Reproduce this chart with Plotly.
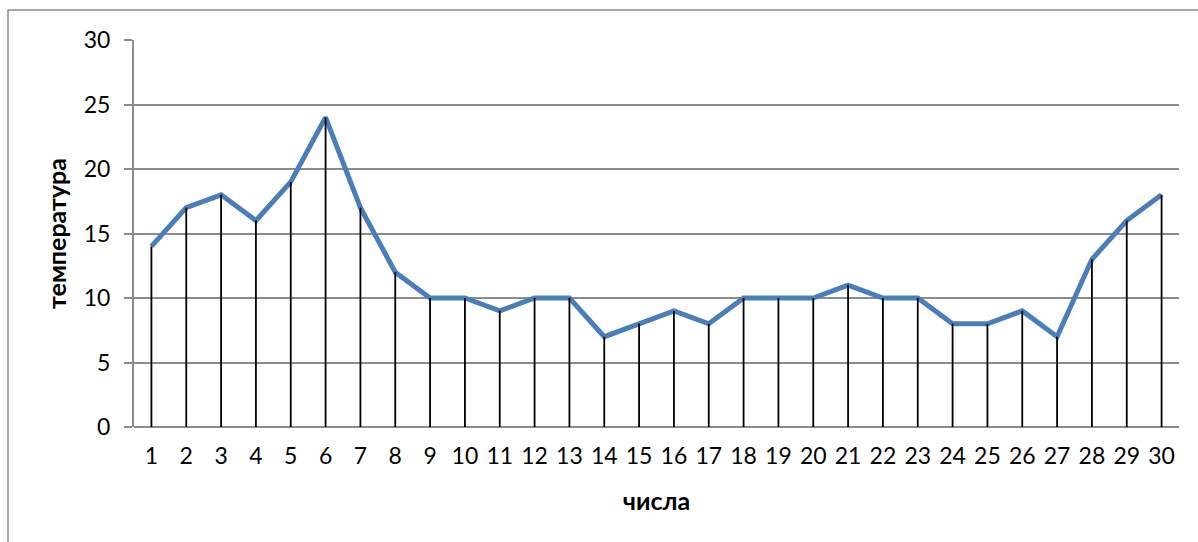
import plotly.graph_objects as go

# day of month and the temperature measured on it
days = list(range(1, 31))
temps = [14, 17, 18, 16, 19, 24, 17, 12, 10, 10, 9, 10, 10, 7, 8,
         9, 8, 10, 10, 10, 11, 10, 10, 8, 8, 9, 7, 13, 16, 18]
y_ticks = [0, 5, 10, 15, 20, 25, 30]

# vertical drop lines from each point down to zero
drop_x, drop_y = [], []
for d, t in zip(days, temps):
    drop_x += [d, d, None]
    drop_y += [0, t, None]

fig = go.Figure()
fig.add_trace(go.Scatter(
    x=days, y=temps, mode="lines",
    line=dict(color="#4A7EBB", width=5), hoverinfo="x+y"))
fig.add_trace(go.Scatter(
    x=drop_x, y=drop_y, mode="lines",
    line=dict(color="#000000", width=1.8), hoverinfo="skip"))

L, R, T, B = 134, 19, 40, 115
W, H = 1198, 542
pw, ph = W - L - R, H - T - B

fig.update_layout(
    width=W, height=H,
    margin=dict(l=L, r=R, t=T, b=B),
    paper_bgcolor="white", plot_bgcolor="white",
    showlegend=False,
    font=dict(family="Lato, Open Sans, sans-serif", size=23, color="#000000"),
    xaxis=dict(
        range=[0.5, 30.5], tickmode="array", tickvals=days,
        ticktext=[str(d) for d in days],
        showgrid=False, zeroline=False, ticks="",
        showline=False, ticklabelstandoff=13,
        title=dict(text="<b>числа</b>", font=dict(size=25), standoff=24),
    ),
    yaxis=dict(
        range=[0, 30], tickmode="array", tickvals=y_ticks,
        showgrid=True, gridcolor="#8C8C8C", gridwidth=1.5,
        zeroline=True, zerolinecolor="#8C8C8C", zerolinewidth=2,
        showline=True, linecolor="#8C8C8C", linewidth=2,
        ticks="outside", ticklen=8, tickcolor="#8C8C8C", tickwidth=1.5,
        ticklabelstandoff=9,
        title=dict(text="<b>температура</b>", font=dict(size=25), standoff=10),
    ),
    shapes=[dict(
        type="rect", xref="paper", yref="paper",
        x0=(8 - L) / pw, x1=(W + 5 - L) / pw,
        y0=(H - B - (H + 5)) / ph, y1=(H - B - 10) / ph,
        line=dict(color="#8C8C8C", width=1.5), layer="below")],
)

fig.write_html("out.html")
